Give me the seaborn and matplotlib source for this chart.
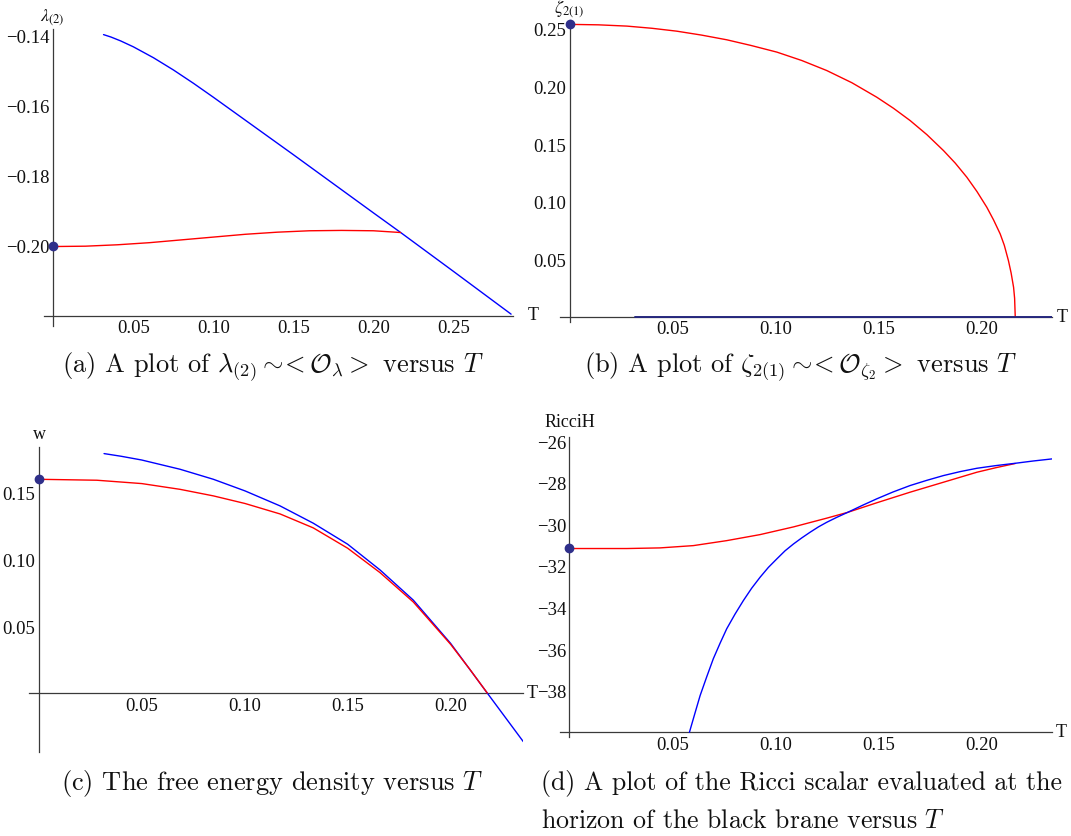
import numpy as np
import pandas as pd
import matplotlib
matplotlib.use("Agg")
import matplotlib.pyplot as plt
import seaborn as sns
from matplotlib.ticker import MultipleLocator

# ---- data ----
# (a) lambda_(2) versus T
a_blue_T = [0.0313, 0.036, 0.042, 0.05, 0.0625, 0.075, 0.0875, 0.10, 0.1125, 0.125, 0.1375, 0.15,
            0.175, 0.20, 0.217, 0.25, 0.286]
a_blue_v = [-0.1397, -0.1404, -0.1415, -0.1432, -0.1463, -0.1498, -0.1536, -0.1576, -0.1617, -0.1658,
            -0.1699, -0.1740, -0.1823, -0.1906, -0.1962, -0.2073, -0.2195]
a_red_T = [0.0, 0.02, 0.04, 0.06, 0.08, 0.10, 0.12, 0.14, 0.16, 0.18, 0.20, 0.217]
a_red_v = [-0.2002, -0.2001, -0.1997, -0.1991, -0.1983, -0.1975, -0.1967, -0.1961, -0.1957, -0.1956,
           -0.1957, -0.1962]
a_point = (0.0, -0.2001)
a_xticks = [0.05, 0.10, 0.15, 0.20, 0.25]
a_yticks = [-0.14, -0.16, -0.18, -0.20]

# (b) zeta_2(1) versus T
b_blue_T = [0.0318, 0.234]
b_blue_v = [0.0, 0.0]
b_red_T = [0.0, 0.014, 0.0278, 0.040, 0.052, 0.064, 0.0763, 0.088, 0.1006, 0.1127, 0.1248, 0.137, 0.1491,
           0.1572, 0.1653, 0.1734, 0.1815, 0.1872, 0.1928, 0.1977, 0.2025, 0.2058, 0.209, 0.211, 0.213,
           0.2143, 0.2155, 0.216, 0.2163]
b_red_v = [0.2540, 0.2536, 0.2525, 0.2506, 0.2481, 0.2447, 0.2406, 0.2357, 0.2299, 0.2226, 0.2139, 0.2033,
           0.1907, 0.1811, 0.1704, 0.1582, 0.1443, 0.1334, 0.1212, 0.1088, 0.0951, 0.0840, 0.0719, 0.0620,
           0.0487, 0.0380, 0.0255, 0.0160, 0.0]
b_point = (0.0, 0.2540)
b_xticks = [0.05, 0.10, 0.15, 0.20]
b_yticks = [0.05, 0.10, 0.15, 0.20, 0.25]

# (c) free energy density w versus T
c_blue_T = [0.0317, 0.04, 0.05, 0.0686, 0.0848, 0.1002, 0.1172, 0.1333, 0.15, 0.1657, 0.1819, 0.20,
            0.2178, 0.2353]
c_blue_v = [0.1789, 0.1769, 0.1741, 0.1672, 0.1597, 0.1510, 0.1398, 0.1269, 0.1112, 0.0920, 0.0694,
            0.0371, 0.0, -0.0363]
c_red_T = [0.0, 0.0282, 0.05, 0.0686, 0.0848, 0.1002, 0.1172, 0.1333, 0.15, 0.1657, 0.1819, 0.20,
           0.2094, 0.2178]
c_red_v = [0.1597, 0.1590, 0.1565, 0.1522, 0.1473, 0.1416, 0.1338, 0.1234, 0.1082, 0.0900, 0.0680,
           0.0364, 0.0176, 0.0]
c_point = (0.0, 0.1597)
c_xticks = [0.05, 0.10, 0.15, 0.20]
c_yticks = [0.05, 0.10, 0.15]

# (d) Ricci scalar at the horizon versus T
d_blue_T = [0.0582, 0.0608, 0.0634, 0.0666, 0.0698, 0.0731, 0.0763, 0.0803, 0.0844, 0.0884, 0.0925,
            0.0965, 0.1006, 0.1046, 0.1087, 0.1127, 0.1167, 0.1208, 0.1248, 0.1297, 0.135, 0.142, 0.1491,
            0.157, 0.1653, 0.1734, 0.1815, 0.1896, 0.1977, 0.207, 0.2163, 0.225, 0.2341]
d_blue_v = [-40.0, -39.11, -38.23, -37.33, -36.46, -35.71, -35.02, -34.32, -33.66, -33.07, -32.54,
            -32.07, -31.66, -31.27, -30.94, -30.65, -30.38, -30.12, -29.90, -29.66, -29.42, -29.09,
            -28.77, -28.44, -28.13, -27.88, -27.65, -27.46, -27.30, -27.17, -27.06, -26.95, -26.85]
d_red_T = [0.0, 0.0278, 0.0439, 0.0601, 0.0763, 0.0925, 0.1087, 0.1248, 0.135, 0.1491, 0.1653, 0.1815,
           0.1977, 0.207, 0.2163]
d_red_v = [-31.16, -31.16, -31.13, -31.02, -30.78, -30.49, -30.12, -29.70, -29.42, -28.96, -28.45,
           -27.97, -27.49, -27.27, -27.07]
d_point = (0.0, -31.15)
d_xticks = [0.05, 0.10, 0.15, 0.20]
d_yticks = [-26, -28, -30, -32, -34, -36, -38]

# ---- style ----
sns.set_theme(style="white")
plt.rcParams["font.family"] = ["Liberation Serif", "DejaVu Serif"]
plt.rcParams["axes.unicode_minus"] = True

W, H = 1071, 837
fig = plt.figure(figsize=(W / 100, H / 100), dpi=100)
fig.patch.set_facecolor("white")

AX_COL = "#3a3a3a"
RED = "#ff0000"
BLUE = "#0000ff"
DOT = "#2f2f8a"


def panel(l, r, t, b, xlim, ylim, xcross):
    ax = fig.add_axes([l / W, 1 - b / H, (r - l) / W, (b - t) / H])
    ax.set_facecolor("none")
    ax.set_xlim(*xlim)
    ax.set_ylim(*ylim)
    for s in ["top", "right"]:
        ax.spines[s].set_visible(False)
    ax.spines["left"].set_position(("data", 0))
    ax.spines["bottom"].set_position(("data", xcross))
    for s in ["left", "bottom"]:
        ax.spines[s].set_color(AX_COL)
        ax.spines[s].set_linewidth(0.9)
    ax.tick_params(which="major", direction="in", length=4, width=0.8, color=AX_COL,
                   labelsize=13.5, pad=2.5, labelcolor="#111111")
    ax.tick_params(which="minor", direction="in", length=2.2, width=0.6, color=AX_COL)
    ax.grid(False)
    return ax


def fmt(v, nd):
    return (f"{v:.{nd}f}").replace("-", "\u2212")


def draw(ax, T, v, color, lw=1.0, z=3):
    df = pd.DataFrame({"T": T, "v": v})
    sns.lineplot(data=df, x="T", y="v", color=color, lw=lw, ax=ax, sort=False,
                 estimator=None, zorder=z)
    ax.set_xlabel("")
    ax.set_ylabel("")


def dot(ax, p):
    ax.plot([p[0]], [p[1]], "o", color=DOT, ms=6, zorder=6, clip_on=False)


# (a)
axa = panel(44, 513, 30, 326.7, (-0.0059, 0.2872), (-0.2228, -0.1381), -0.22)
draw(axa, a_blue_T, a_blue_v, BLUE)
draw(axa, a_red_T, a_red_v, RED, z=4)
dot(axa, a_point)
axa.set_xticks(a_xticks, [fmt(t, 2) for t in a_xticks])
axa.set_yticks(a_yticks, [fmt(t, 2) for t in a_yticks])
axa.xaxis.set_minor_locator(MultipleLocator(0.01))
axa.yaxis.set_minor_locator(MultipleLocator(0.004))

# (b)
axb = panel(560.3, 1051.7, 21, 323.3, (-0.0045, 0.234), (-0.0049, 0.2578), 0.0)
draw(axb, b_red_T, b_red_v, RED)
draw(axb, b_blue_T, b_blue_v, "#26287e", lw=1.4, z=5)
dot(axb, b_point)
axb.set_xticks(b_xticks, [fmt(t, 2) for t in b_xticks])
axb.set_yticks(b_yticks, [fmt(t, 2) for t in b_yticks])
axb.xaxis.set_minor_locator(MultipleLocator(0.01))
axb.yaxis.set_minor_locator(MultipleLocator(0.01))

# (c)
axc = panel(29.3, 522.7, 448.3, 752.7, (-0.0046, 0.235), (-0.0438, 0.1836), 0.0)
draw(axc, c_blue_T, c_blue_v, BLUE)
draw(axc, c_red_T, c_red_v, RED, z=4)
dot(axc, c_point)
axc.set_xticks(c_xticks, [fmt(t, 2) for t in c_xticks])
axc.set_yticks(c_yticks, [fmt(t, 2) for t in c_yticks])
axc.xaxis.set_minor_locator(MultipleLocator(0.01))
axc.yaxis.set_minor_locator(MultipleLocator(0.01))

# (d)
axd = panel(560, 1051.7, 438.3, 738.3, (-0.0046, 0.234), (-40.24, -25.81), -40.0)
draw(axd, d_red_T, d_red_v, RED)
draw(axd, d_blue_T, d_blue_v, BLUE, z=4)
dot(axd, d_point)
axd.set_xticks(d_xticks, [fmt(t, 2) for t in d_xticks])
axd.set_yticks(d_yticks, [fmt(t, 0) for t in d_yticks])
axd.xaxis.set_minor_locator(MultipleLocator(0.01))
axd.yaxis.set_minor_locator(MultipleLocator(0.4))


# ---- axis labels (placed in figure pixels) ----
def ftext(x, y, s, **kw):
    fig.text(x / W, 1 - y / H, s, **kw)


lab = dict(fontsize=13, color="#111111", ha="center", va="center", math_fontfamily="stix")
ftext(52, 18, r"$\lambda_{(2)}$", **lab)
ftext(569, 9, r"$\zeta_{2(1)}$", **lab)
ftext(39, 435, "w", **lab)
ftext(570, 423, "RicciH", **lab)
for x, y in [(533, 316), (1062, 317), (532, 693), (1061, 733)]:
    ftext(x, y, "T", **lab)

# ---- sub-captions (LaTeX style) ----
cap = dict(fontsize=19, color="#111111", family="cmr10", math_fontfamily="cm", va="baseline")
ftext(273, 373, r"(a) A plot of $\lambda_{(2)} \sim\!\!< \mathcal{O}_{\lambda} >$ versus $T$", ha="center", **cap)
ftext(801, 373, r"(b) A plot of $\zeta_{2(1)} \sim\!\!< \mathcal{O}_{\zeta_2} >$ versus $T$", ha="center", **cap)
ftext(272, 790, r"(c) The free energy density versus $T$", ha="center", **cap)
cap["fontsize"] = 18.6
ftext(541, 790, r"(d) A plot of the Ricci scalar evaluated at the", ha="left", **cap)
ftext(541, 828, r"horizon of the black brane versus $T$", ha="left", **cap)

fig.savefig("out.png", dpi=100, facecolor="white")
